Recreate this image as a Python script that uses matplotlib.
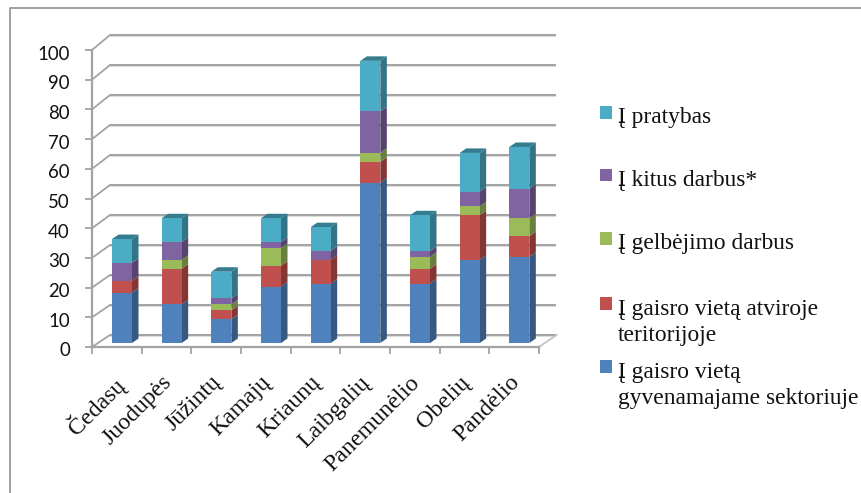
import matplotlib
matplotlib.use("Agg")
import matplotlib.pyplot as plt
from matplotlib.patches import Rectangle
from matplotlib.colors import to_rgb
from matplotlib.transforms import ScaledTranslation

categories = ["Čedasų", "Juodupės", "Jūžintų", "Kamajų", "Kriaunų", "Laibgalių", "Panemunėlio", "Obelių", "Pandėlio"]
gyvenamajame = [17, 13, 8, 19, 20, 54, 20, 28, 29]
atviroje = [4, 12, 3, 7, 8, 7, 5, 15, 7]
gelbejimo = [0, 3, 2, 6, 0, 3, 4, 3, 6]
kitus = [6, 6, 2, 2, 3, 14, 2, 5, 10]
pratybas = [8, 8, 9, 8, 8, 17, 12, 13, 14]
series_values = [gyvenamajame, atviroje, gelbejimo, kitus, pratybas]
series_colors = ["#4F81BD", "#C0504D", "#9BBB59", "#8064A2", "#4BACC6"]
yticks = list(range(0, 101, 10))
legend_labels = ["Į pratybas", "Į kitus darbus*", "Į gelbėjimo darbus",
                 "Į gaisro vietą atviroje\nteritorijoje", "Į gaisro vietą\ngyvenamajame sektoriuje"]

W, H = 862, 493
fig = plt.figure(figsize=(W / 100, H / 100), dpi=100)
fig.patch.set_facecolor("white")
# axes: x 0..9 spans 92..539 px, y 0..100 spans 347..50 px
ax = fig.add_axes([92 / W, 1 - 347 / H, (539 - 92) / W, (347 - 50) / H])
ax.set_xlim(0, 9)
ax.set_ylim(0, 100)
ax.patch.set_visible(False)
PX = 9 / (539 - 92)
PY = 100 / (347 - 50)
GRAY = "#A3A3A3"


def shade(c, f):
    return tuple(v * f for v in to_rgb(c))


# back wall gridlines, side wall diagonals, floor
for t in yticks:
    back = t * 1.01  # slight perspective growth at the back wall
    for off, col, lw in [(-1.0, "#DCDCDC", 1.4), (0, GRAY, 1.4)]:
        ax.plot([18 * PX, 9 + 17.5 * PX], [back + (12 + off) * PY] * 2, color=col, lw=lw,
                clip_on=False, zorder=1, solid_capstyle="butt")
    ax.plot([0, 18 * PX], [t, back + 12 * PY], color=GRAY, lw=1.3, clip_on=False, zorder=1)
ax.plot([9, 9 + 17.5 * PX], [0, 12 * PY], color="#C4C4C4", lw=1.3, clip_on=False, zorder=1)

# stacked bars with pseudo-3D faces
BAR_L = 20 * PX      # offset of the front face from the tick, first-bar reference
BAR_W = 20 * PX
DX = 6.5 * PX
DY = 4.5 * PY
Y0 = 4 * PY
for i in range(len(categories)):
    base = Y0
    x0 = i + BAR_L
    x1 = x0 + BAR_W
    for values, col in zip(series_values, series_colors):
        v = values[i]
        if v == 0:
            continue
        top = base + v
        ax.bar(x0, v, BAR_W, bottom=base, align="edge", color=col, lw=0, zorder=4, clip_on=False)
        ax.fill([x1, x1 + DX, x1 + DX, x1], [base, base + DY, top + DY, top],
                color=shade(col, 0.68), lw=0, zorder=3, clip_on=False)
        base = top
    top_col = series_colors[-1]
    ax.fill([x0, x1, x1 + DX, x0 + DX], [base, base, base + DY, base + DY],
            color=shade(top_col, 0.72), lw=0, zorder=3, clip_on=False)

# axes
for s in ("top", "right"):
    ax.spines[s].set_visible(False)
for s in ("left", "bottom"):
    ax.spines[s].set_color(GRAY)
    ax.spines[s].set_linewidth(1.6)
    ax.spines[s].set_zorder(5)
ax.set_yticks(yticks)
ax.set_xticks(range(len(categories) + 1))
ax.set_xticklabels([])
ax.tick_params(axis="both", color=GRAY, width=1.3, length=5)
ax.tick_params(axis="y", labelsize=13.4, pad=11, labelcolor="#111111")
shift = ScaledTranslation(0, -2.5 / 100, fig.dpi_scale_trans)
for lab in ax.get_yticklabels():
    lab.set_family("Lato")
    lab.set_transform(lab.get_transform() + shift)

# category labels, rotated and right-anchored under each slot
for i, name in enumerate(categories):
    ax.annotate(name, xy=(i + 0.5, 0), xycoords="data", xytext=(-4, -18), textcoords="offset points",
                rotation=45, rotation_mode="anchor", ha="right", va="top",
                family="Liberation Serif", fontsize=17.2, color="#111111", annotation_clip=False)

# legend (drawn by hand: entries sit at uneven spacing)
marker_tops = [106, 169, 232, 297, 360]
last_baselines = [123, 186, 249, 341, 404]
for label, col, mt, bl in zip(legend_labels, series_colors[::-1], marker_tops, last_baselines):
    fig.add_artist(Rectangle((600 / W, 1 - (mt + 12.5) / H), 11.5 / W, 12.5 / H,
                             transform=fig.transFigure, color=col, lw=0))
    fig.text(618 / W, 1 - bl / H, label, family="Liberation Serif", fontsize=16.9,
             color="#111111", va="baseline", ha="left", linespacing=1.3)

# outer frame (runs off the right and bottom of the picture)
fig.add_artist(plt.Line2D([10.5 / W, 10.5 / W, 1], [0, 1 - 7.5 / H, 1 - 7.5 / H], color="#A0A0A0", lw=1.4,
                          transform=fig.transFigure))

fig.savefig("out.png", dpi=100)
